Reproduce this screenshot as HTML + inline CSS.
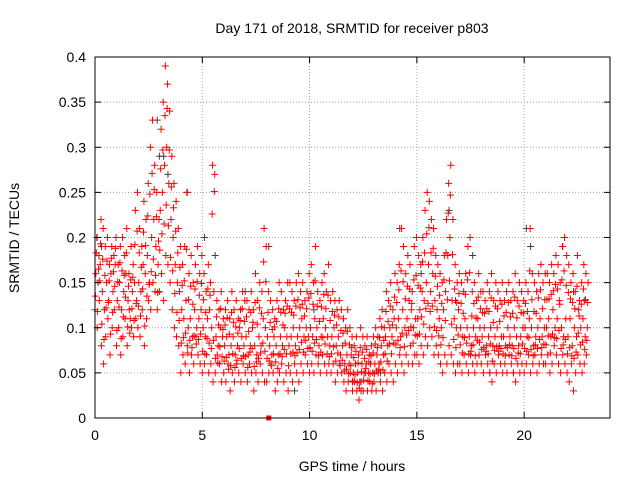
<!DOCTYPE html>
<html><head><meta charset="utf-8"><style>
body{margin:0;background:#fff;}
svg{display:block;font-family:"Liberation Sans",sans-serif;}
</style></head><body>
<svg id="chart" width="640" height="480" xmlns="http://www.w3.org/2000/svg">
<rect width="640" height="480" fill="#fff"/>
<g id="grid"></g>
<g id="marks"></g>
<rect x="95" y="57" width="515" height="361" fill="none" stroke="#000" stroke-width="1"/>
<g id="axes"></g>
<text x="352" y="33" text-anchor="middle" font-size="14">Day 171 of 2018, SRMTID for receiver p803</text>
<text x="352" y="471" text-anchor="middle" font-size="14">GPS time / hours</text>
<text transform="translate(19,238) rotate(-90)" text-anchor="middle" font-size="14">SRMTID / TECUs</text>
</svg>
<script>
const xTicks=[0,5,10,15,20];
const yTicks=[0,0.05,0.1,0.15,0.2,0.25,0.3,0.35,0.4];
const yTickLabels=["0","0.05","0.1","0.15","0.2","0.25","0.3","0.35","0.4"];
const hours=[];for(let i=0;i<230;i++)hours.push(i/10);
const tecuLow=[.12,.10,.13,.08,.06,.09,.11,.07,.10,.12,.08,.10,.07,.09,.11,.08,.12,.10,.09,.11,.10,.09,.12,.08,.11,.13,.12,.15,.14,.12,.14,.16,.13,.18,.17,.15,.12,.10,.09,.08,.05,.07,.06,.08,.05,.07,.06,.09,.07,.06,.05,.06,.07,.05,.06,.04,.05,.07,.06,.04,.05,.04,.06,.03,.05,.04,.06,.05,.04,.06,.05,.04,.06,.05,.03,.05,.04,.06,.05,.04,.04,.05,.06,.05,.03,.04,.05,.06,.04,.05,.03,.05,.04,.06,.05,.04,.06,.05,.07,.06,.05,.06,.05,.07,.06,.05,.07,.06,.05,.06,.05,.06,.04,.05,.06,.05,.04,.03,.04,.05,.03,.04,.03,.02,.04,.03,.05,.03,.04,.03,.04,.03,.05,.04,.03,.05,.04,.06,.05,.04,.06,.05,.07,.06,.05,.07,.06,.08,.06,.07,.07,.06,.08,.07,.09,.08,.10,.09,.07,.08,.07,.06,.05,.07,.06,.08,.07,.06,.05,.06,.06,.05,.07,.06,.05,.07,.06,.05,.06,.07,.06,.05,.07,.06,.05,.04,.06,.05,.07,.06,.05,.06,.05,.07,.06,.05,.04,.06,.05,.06,.05,.06,.07,.05,.06,.07,.05,.06,.07,.06,.06,.07,.05,.06,.08,.07,.06,.05,.07,.06,.05,.04,.06,.03,.05,.07,.06,.05,.06,.07];
const tecuLowMid=[.135,.118,.152,.104,.087,.122,.128,.093,.117,.146,.097,.123,.088,.112,.134,.101,.094,.121,.108,.127,.124,.113,.143,.102,.135,.148,.162,.176,.158,.139,.186,.204,.215,.236,.213,.178,.163,.138,.117,.108,.083,.089,.094,.072,.086,.078,.091,.082,.087,.093,.074,.071,.088,.083,.077,.086,.066,.061,.079,.068,.063,.067,.054,.058,.071,.056,.064,.077,.066,.069,.068,.056,.073,.077,.057,.062,.066,.072,.083,.074,.066,.063,.058,.071,.062,.055,.071,.068,.076,.071,.058,.071,.073,.069,.072,.076,.084,.073,.086,.077,.078,.074,.083,.087,.069,.073,.089,.082,.071,.068,.071,.079,.063,.072,.058,.064,.052,.054,.049,.058,.041,.048,.039,.033,.051,.042,.055,.041,.049,.038,.049,.052,.054,.062,.053,.071,.063,.082,.071,.083,.081,.086,.078,.094,.079,.092,.097,.101,.083,.092,.091,.093,.112,.104,.121,.127,.118,.124,.101,.097,.091,.081,.089,.108,.131,.152,.104,.087,.078,.092,.081,.072,.089,.083,.071,.074,.081,.069,.086,.084,.076,.078,.074,.071,.082,.063,.075,.079,.074,.077,.071,.069,.078,.081,.069,.077,.066,.072,.071,.082,.077,.074,.089,.076,.069,.081,.077,.087,.078,.082,.081,.091,.072,.093,.089,.088,.097,.077,.081,.087,.071,.078,.069,.066,.073,.094,.081,.084,.076,.086];
const tecuMid=[.16,.15,.17,.14,.12,.15,.13,.16,.14,.17,.13,.15,.12,.14,.16,.13,.11,.14,.15,.13,.15,.14,.17,.16,.18,.15,.20,.22,.19,.17,.23,.25,.28,.30,.26,.22,.20,.17,.15,.14,.12,.11,.13,.10,.11,.09,.12,.10,.11,.12,.10,.09,.11,.12,.10,.14,.09,.08,.10,.09,.08,.09,.07,.08,.09,.07,.08,.10,.09,.08,.09,.07,.08,.10,.08,.07,.09,.08,.11,.10,.09,.08,.07,.09,.08,.07,.09,.08,.10,.09,.08,.09,.10,.08,.09,.10,.11,.09,.10,.09,.10,.09,.11,.10,.08,.09,.11,.10,.09,.08,.09,.10,.08,.09,.07,.08,.06,.07,.06,.07,.05,.06,.05,.04,.06,.05,.06,.05,.06,.05,.06,.07,.06,.08,.07,.09,.08,.10,.09,.11,.10,.11,.09,.12,.10,.11,.13,.12,.10,.11,.11,.12,.14,.13,.15,.17,.14,.16,.13,.12,.11,.10,.12,.14,.18,.20,.13,.11,.10,.12,.10,.09,.11,.10,.09,.08,.10,.09,.11,.10,.09,.10,.08,.09,.10,.08,.09,.10,.08,.09,.09,.08,.10,.09,.08,.10,.09,.08,.09,.10,.10,.09,.11,.10,.08,.09,.10,.11,.09,.10,.10,.11,.09,.12,.10,.11,.13,.10,.09,.11,.09,.11,.08,.10,.09,.12,.10,.11,.09,.10];
const tecuMidHigh=[.183,.165,.193,.176,.158,.174,.152,.177,.162,.188,.151,.172,.163,.158,.183,.146,.153,.156,.192,.207,.183,.167,.206,.191,.224,.248,.271,.253,.223,.196,.276,.297,.335,.343,.297,.256,.233,.207,.183,.167,.147,.152,.187,.131,.146,.126,.143,.151,.136,.149,.131,.117,.143,.136,.226,.251,.112,.103,.121,.098,.103,.111,.093,.117,.106,.101,.094,.108,.121,.107,.112,.096,.117,.106,.128,.104,.122,.116,.173,.151,.117,.106,.098,.101,.107,.121,.117,.103,.116,.124,.121,.117,.114,.124,.131,.122,.126,.113,.121,.133,.138,.126,.152,.124,.107,.123,.137,.121,.136,.108,.118,.114,.103,.112,.097,.094,.083,.096,.081,.078,.067,.074,.061,.078,.073,.066,.076,.062,.069,.072,.082,.078,.089,.101,.086,.118,.107,.124,.103,.134,.128,.142,.163,.151,.132,.146,.143,.127,.153,.158,.147,.144,.173,.183,.204,.211,.183,.188,.157,.146,.136,.127,.153,.183,.227,.247,.181,.143,.128,.138,.127,.116,.137,.153,.161,.113,.127,.111,.134,.121,.117,.116,.121,.118,.133,.106,.124,.121,.107,.126,.113,.117,.128,.112,.116,.134,.111,.124,.117,.116,.127,.118,.163,.131,.118,.116,.133,.142,.121,.131,.131,.132,.137,.141,.148,.143,.126,.153,.163,.147,.139,.132,.128,.121,.146,.113,.126,.143,.131,.128];
const tecuHigh=[.20,.18,.22,.21,.19,.20,.17,.19,.18,.20,.17,.19,.20,.18,.21,.16,.19,.17,.23,.25,.21,.19,.24,.22,.26,.30,.33,.28,.25,.22,.32,.35,.39,.37,.34,.29,.26,.24,.21,.19,.17,.19,.25,.16,.18,.15,.17,.19,.16,.18,.16,.14,.17,.15,.28,.27,.13,.12,.14,.11,.12,.13,.11,.14,.12,.13,.11,.12,.14,.13,.13,.12,.14,.12,.16,.13,.15,.14,.21,.19,.14,.13,.12,.11,.13,.15,.14,.12,.13,.15,.15,.14,.13,.15,.16,.14,.15,.13,.14,.16,.17,.15,.19,.14,.13,.15,.16,.14,.17,.13,.14,.13,.12,.13,.12,.11,.10,.12,.10,.09,.08,.09,.07,.10,.09,.08,.09,.07,.08,.09,.10,.09,.11,.12,.10,.14,.13,.15,.12,.16,.15,.17,.21,.19,.16,.18,.17,.14,.19,.20,.18,.17,.20,.23,.25,.24,.22,.21,.18,.17,.16,.15,.18,.22,.26,.28,.22,.17,.15,.16,.15,.14,.16,.19,.20,.14,.15,.13,.16,.14,.14,.13,.15,.14,.16,.13,.15,.14,.13,.15,.13,.14,.15,.13,.14,.16,.13,.15,.14,.13,.15,.14,.21,.16,.15,.14,.16,.17,.15,.16,.16,.15,.17,.16,.18,.17,.15,.19,.20,.18,.17,.15,.16,.14,.18,.13,.15,.17,.16,.15];
const grayHours=[0.1,0.3,2.9,3.0,3.2,3.4,4.3,5.1,5.6,7.0,8.1,9.3,10.2,12.0,12.4,13.3,14.2,15.2,16.5,16.8,17.6,18.4,19.5,20.1,20.3,21.8,22.3,22.8];
const grayTecu=[0.20,0.19,0.33,0.29,0.29,0.27,0.25,0.20,0.18,0.14,0.19,0.03,0.12,0.04,0.03,0.05,0.21,0.16,0.23,0.13,0.18,0.05,0.05,0.21,0.19,0.19,0.14,0.13];
const squareHours=[8.1];const squareTecu=[0];

const NS="http://www.w3.org/2000/svg";
const X0=95,X1=610,Y0=418,Y1=57;
function xs(h){return X0+h*(X1-X0)/24;}
function ys(v){return Y0-v*(Y0-Y1)/0.4;}
function mk(tag,attrs,parent){const e=document.createElementNS(NS,tag);for(const k in attrs)e.setAttribute(k,attrs[k]);parent.appendChild(e);return e;}
const grid=document.getElementById('grid'),axes=document.getElementById('axes'),marks=document.getElementById('marks');
yTicks.forEach((v,i)=>{const y=ys(v);
 if(i>0&&i<yTicks.length-1){const g=mk('line',{x1:X0,x2:X1,y1:y,y2:y,stroke:'#a0a0a0','stroke-dasharray':'1,2'},grid);
 
 }
 mk('line',{x1:X0,x2:X0+6,y1:y,y2:y,stroke:'#000'},axes);
 mk('line',{x1:X1,x2:X1-6,y1:y,y2:y,stroke:'#000'},axes);
 const t=mk('text',{x:X0-9,y:y+5,'text-anchor':'end','font-size':'14'},axes);t.textContent=yTickLabels[i];
 
 });
xTicks.forEach(h=>{const x=xs(h);
 if(h>0){const g=mk('line',{x1:x,x2:x,y1:Y0,y2:Y1,stroke:'#a0a0a0','stroke-dasharray':'1,2'},grid);
 
 }
 mk('line',{x1:x,x2:x,y1:Y0,y2:Y0-6,stroke:'#000'},axes);
 mk('line',{x1:x,x2:x,y1:Y1,y2:Y1+6,stroke:'#000'},axes);
 const t=mk('text',{x:x,y:Y0+22,'text-anchor':'middle','font-size':'14'},axes);t.textContent=String(h);
 
 });
function plus(h,v,color,name){const x=xs(h),y=ys(v);
 const p=mk('path',{d:`M${x-3.5},${y}H${x+3.5}M${x},${y-3.5}V${y+3.5}`,stroke:color,'stroke-width':'1',fill:'none'},marks);
 
 }
grayHours.forEach((h,i)=>plus(h,grayTecu[i],'#404040','gray-point'));
hours.forEach((h,i)=>{
 plus(h,tecuLow[i],'#ff0000','red-point');
 plus(h+0.02,tecuLowMid[i],'#ff0000','red-point');
 plus(h+0.04,tecuMid[i],'#ff0000','red-point');
 plus(h+0.06,tecuMidHigh[i],'#ff0000','red-point');
 plus(h+0.08,tecuHigh[i],'#ff0000','red-point');});
squareHours.forEach((h,i)=>{const r=mk('rect',{x:xs(h)-2.5,y:ys(squareTecu[i])-2.5,width:5,height:5,fill:'#ff0000'},marks);
 
 });
</script>
</body></html>
